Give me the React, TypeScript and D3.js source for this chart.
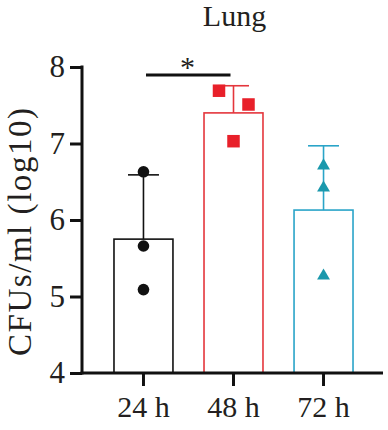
import React, { useEffect, useRef } from 'react';
import * as d3 from 'd3';

// groups and summary values
const categories = ['24 h', '48 h', '72 h'];
const means = [5.75, 7.4, 6.13];
const errorTops = [6.59, 7.755, 6.97];
const points24 = [6.63, 5.66, 5.09];
const points48 = [7.69, 7.51, 7.03];
const points72 = [6.71, 6.42, 5.27];
const yTicks = [4, 5, 6, 7, 8];

const FONT = '"Liberation Serif", "Times New Roman", serif';
const strokes = ['#111111', '#e4363c', '#2aa4c8'];
const fills = ['#111111', '#e8202a', '#1a98ac'];

const App = () => {
  const ref = useRef<SVGSVGElement>(null);

  useEffect(() => {
    const svg = d3.select(ref.current);
    svg.selectAll('*').remove();

    const width = 388, height = 430;
    svg.attr('width', width).attr('height', height);

    const x = d3.scaleBand()
      .domain(categories)
      .range([98.5, 368.5])
      .paddingInner(0.345)
      .paddingOuter(0.172);

    const y = d3.scaleLinear().domain([4, 8]).range([373, 67]);
    const axisX = 82;
    const baseY = y(4);
    const bw = x.bandwidth();

    // title
    svg.append('text')
      .attr('x', 234.5).attr('y', 26)
      .attr('text-anchor', 'middle')
      .attr('font-family', FONT).attr('font-size', 30)
      .attr('fill', '#231f20')
      .text('Lung');

    // y label
    svg.append('text')
      .attr('transform', 'translate(31,232) rotate(-90)')
      .attr('text-anchor', 'middle')
      .attr('font-family', FONT).attr('font-size', 33)
      .attr('textLength', 248)
      .attr('fill', '#231f20')
      .text('CFUs/ml (log10)');

    // bars
    const g = svg.append('g');
    g.selectAll('rect.bar')
      .data(means)
      .enter().append('rect')
      .attr('class', 'bar')
      .attr('x', (d, i) => x(categories[i])!)
      .attr('y', d => y(d))
      .attr('width', bw)
      .attr('height', d => baseY - y(d))
      .attr('fill', 'none')
      .attr('stroke', (d, i) => strokes[i])
      .attr('stroke-width', 1.6);

    // error bars (upper only)
    means.forEach((m, i) => {
      const cx = x(categories[i])! + bw / 2;
      const eg = g.append('g').attr('stroke', strokes[i]).attr('stroke-width', 1.6);
      eg.append('line').attr('x1', cx).attr('x2', cx).attr('y1', y(m)).attr('y2', y(errorTops[i]));
      eg.append('line').attr('x1', cx - 15.5).attr('x2', cx + 15.5)
        .attr('y1', y(errorTops[i])).attr('y2', y(errorTops[i]));
    });

    const center = (i: number) => x(categories[i])! + bw / 2;

    // 24 h dots
    g.selectAll('circle.pt')
      .data(points24)
      .enter().append('circle')
      .attr('cx', center(0))
      .attr('cy', d => y(d))
      .attr('r', 5.8)
      .attr('fill', fills[0]);

    // 48 h squares, spread sideways
    const jitter48 = [-14.5, 15, 0];
    const sq = 12.5;
    g.selectAll('rect.pt')
      .data(points48)
      .enter().append('rect')
      .attr('class', 'pt')
      .attr('x', (d, i) => center(1) + jitter48[i] - sq / 2)
      .attr('y', d => y(d) - sq / 2)
      .attr('width', sq).attr('height', sq)
      .attr('fill', fills[1]);

    // 72 h triangles
    const tri = d3.symbol().type(d3.symbolTriangle).size(72);
    g.selectAll('path.pt')
      .data(points72)
      .enter().append('path')
      .attr('class', 'pt')
      .attr('transform', d => `translate(${center(2)},${y(d)})`)
      .attr('d', tri())
      .attr('fill', fills[2]);

    // y axis
    const yAxis = svg.append('g')
      .attr('transform', `translate(${axisX},0)`)
      .call(d3.axisLeft(y).tickValues(yTicks).tickSize(12).tickPadding(5).tickFormat(d3.format('d')));
    yAxis.select('.domain').remove();
    yAxis.selectAll('line').attr('stroke', '#111').attr('stroke-width', 3);
    yAxis.selectAll('text')
      .attr('font-family', FONT).attr('font-size', 31).attr('fill', '#231f20');
    svg.append('line')
      .attr('x1', axisX).attr('x2', axisX)
      .attr('y1', y(8) - 1.5).attr('y2', baseY + 1.5)
      .attr('stroke', '#111').attr('stroke-width', 3);

    // x axis
    const xAxis = svg.append('g')
      .attr('transform', `translate(0,${baseY})`)
      .call(d3.axisBottom(x).tickSize(13).tickPadding(10));
    xAxis.select('.domain').remove();
    xAxis.selectAll('line').attr('stroke', '#111').attr('stroke-width', 3);
    xAxis.selectAll('text')
      .attr('font-family', FONT).attr('font-size', 30).attr('fill', '#231f20');
    svg.append('line')
      .attr('x1', axisX - 1.5).attr('x2', 383)
      .attr('y1', baseY).attr('y2', baseY)
      .attr('stroke', '#111').attr('stroke-width', 3);

    // significance bracket
    svg.append('line')
      .attr('x1', 146).attr('x2', 230.5)
      .attr('y1', 75).attr('y2', 75)
      .attr('stroke', '#111').attr('stroke-width', 3);
    svg.append('text')
      .attr('x', 187.5).attr('y', 77)
      .attr('text-anchor', 'middle')
      .attr('font-family', FONT).attr('font-size', 30)
      .attr('fill', '#231f20')
      .text('*');
  }, []);

  return (
    <svg ref={ref} style={{ position: 'absolute', left: 0, top: 0, background: '#fff' }}></svg>
  );
};

export default App;
